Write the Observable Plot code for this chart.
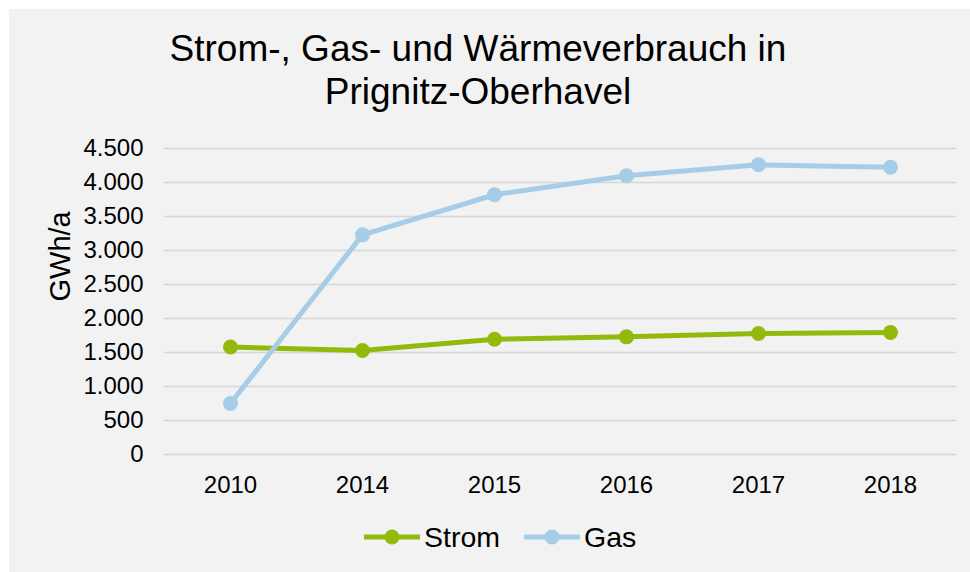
<!DOCTYPE html>
<html>
<head>
<meta charset="utf-8">
<script src="https://cdn.jsdelivr.net/npm/d3@7"></script>
<script src="https://cdn.jsdelivr.net/npm/@observablehq/plot@0.6"></script>
<style>
  html, body { margin: 0; padding: 0; background: #ffffff; }
  body { width: 970px; height: 572px; position: relative; overflow: hidden;
         font-family: "Liberation Sans", Arial, sans-serif; color: #000; }
  #panel { position: absolute; left: 9px; top: 9px; width: 961px; height: 563px; background: #f2f2f2; }
  #title { position: absolute; left: 0; top: 27px; width: 956px; text-align: center;
           font-size: 37px; line-height: 43px; }
  #chart { position: absolute; left: 0; top: 130px; }
  #legend { position: absolute; left: 364px; top: 517px; height: 40px; display: flex; align-items: center; font-size: 28.5px; }
  .item { display: flex; align-items: center; }
  .item + .item { margin-left: 24px; }
  .item svg { display: block; margin-right: 4px; }
</style>
</head>
<body>
<div id="panel"></div>
<div id="title">Strom-, Gas- und Wärmeverbrauch in<br>Prignitz-Oberhavel</div>
<div id="chart"></div>
<div id="legend"></div>
<script>
const years = ["2010", "2014", "2015", "2016", "2017", "2018"];
const seriesNames = ["Strom", "Gas"];
const strom = [1580, 1530, 1695, 1730, 1780, 1795];
const gas = [750, 3230, 3820, 4100, 4260, 4225];
const colors = ["#94b90d", "#a6cde8"];
const yTicks = [0, 500, 1000, 1500, 2000, 2500, 3000, 3500, 4000, 4500];
const yLabel = "GWh/a";

const de = d3.formatLocale({decimal: ",", thousands: ".", grouping: [3], currency: ["", " €"]});
const fmt = de.format(",");

const rows = [];
[strom, gas].forEach((vals, s) => {
  vals.forEach((v, i) => rows.push({year: years[i], value: v, series: seriesNames[s]}));
});

const chart = Plot.plot({
  width: 970,
  height: 370,
  marginLeft: 164,
  marginRight: 14,
  marginTop: 18,
  marginBottom: 46,
  style: {fontFamily: "'Liberation Sans', Arial, sans-serif", fontSize: "24px", background: "transparent", color: "#000", overflow: "visible"},
  x: {type: "point", domain: years, padding: 0.5},
  y: {domain: [0, 4500]},
  color: {domain: seriesNames, range: colors},
  marks: [
    Plot.gridY(yTicks, {stroke: "#d6d6d6", strokeOpacity: 1, strokeWidth: 1.6}),
    Plot.axisY(yTicks, {tickSize: 0, tickPadding: 21, tickFormat: fmt, label: null, fontSize: 24}),
    Plot.axisX({tickSize: 0, tickPadding: 21, label: null, fontSize: 24}),
    Plot.text([yLabel], {text: d => d, frameAnchor: "left", dx: -104, rotate: -90, fontSize: 29, fill: "#000"}),
    Plot.line(rows, {x: "year", y: "value", z: "series", stroke: "series", strokeWidth: 5}),
    Plot.dot(rows, {x: "year", y: "value", fill: "series", r: 7.5})
  ]
});
document.getElementById("chart").appendChild(chart);

const legend = document.getElementById("legend");
seriesNames.forEach((name, i) => {
  const item = document.createElement("div");
  item.className = "item";
  item.innerHTML = `<svg width="56" height="20"><line x1="1" y1="10" x2="55" y2="10" stroke="${colors[i]}" stroke-width="5" stroke-linecap="round"/><circle cx="28" cy="10" r="7.5" fill="${colors[i]}"/></svg><span>${name}</span>`;
  legend.appendChild(item);
});
</script>
</body>
</html>
